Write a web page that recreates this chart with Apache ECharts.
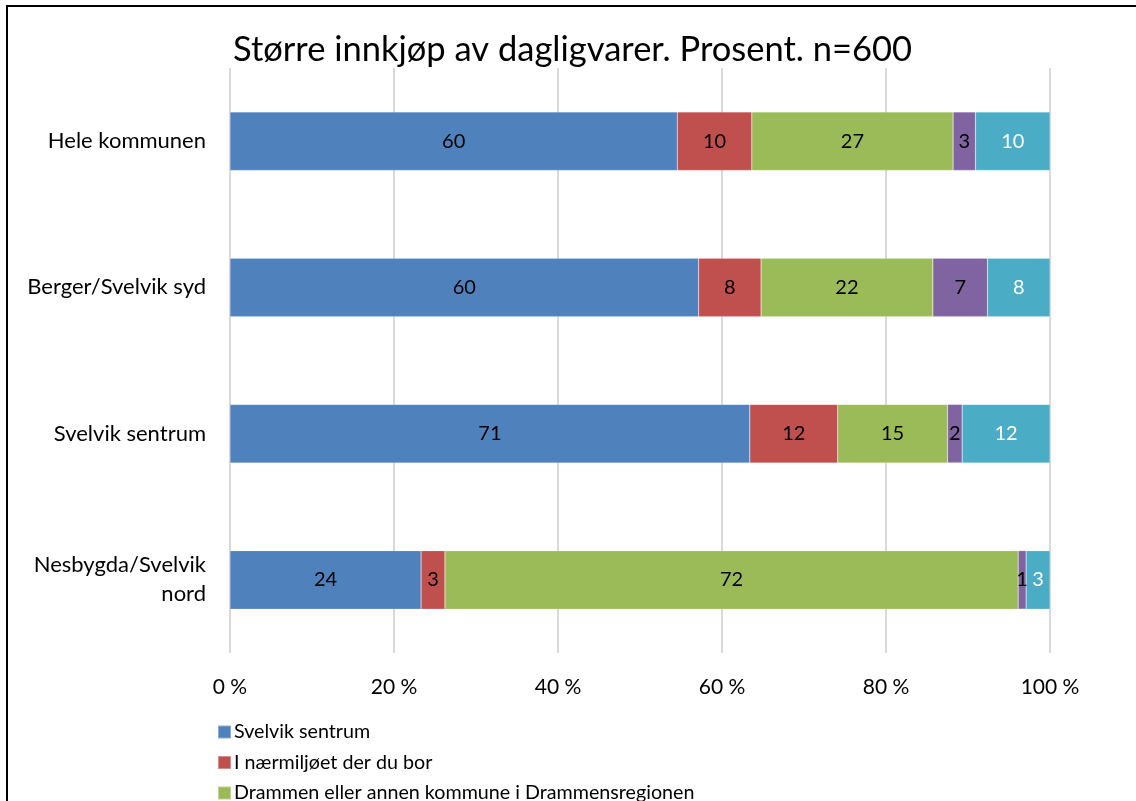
<!DOCTYPE html>
<html>
<head>
<meta charset="utf-8">
<script src="https://cdn.jsdelivr.net/npm/echarts@6/dist/echarts.min.js"></script>
<style>
html,body{margin:0;padding:0;background:#fff;}
#frame{position:absolute;left:6px;top:5px;width:1140px;height:820px;border:2px solid #000;box-sizing:border-box;}
#chart{position:absolute;left:0;top:0;width:1136px;height:801px;}
</style>
</head>
<body>
<div id="frame"></div>
<div id="chart"></div>
<script>
const categories = ['Hele kommunen', 'Berger/Svelvik syd', 'Svelvik sentrum', 'Nesbygda/Svelvik\nnord'];
const seriesNames = ['Svelvik sentrum', 'I nærmiljøet der du bor', 'Drammen eller annen kommune i Drammensregionen', 'Andre steder', 'Vet ikke'];
const svelvikSentrum = [60, 60, 71, 24];
const naermiljoet = [10, 8, 12, 3];
const drammen = [27, 22, 15, 72];
const andre = [3, 7, 2, 1];
const vetIkke = [10, 8, 12, 3];
const xTicks = [0, 20, 40, 60, 80, 100];

const colors = ['#4F81BD', '#C0504D', '#9BBB59', '#8064A2', '#4BACC6'];
const labelColors = ['#000', '#000', '#000', '#000', '#fff'];
const raw = [svelvikSentrum, naermiljoet, drammen, andre, vetIkke];
const totals = categories.map((c, i) => raw.reduce((s, arr) => s + arr[i], 0));
const FONT = 'Lato, "Open Sans", sans-serif';

const series = raw.map((arr, k) => ({
  name: seriesNames[k],
  type: 'bar',
  stack: 'total',
  barWidth: '40%',
  itemStyle: { color: colors[k], borderColor: 'rgba(255,255,255,0.35)', borderWidth: 0.5 },
  label: {
    show: true,
    position: 'inside',
    color: labelColors[k],
    fontFamily: FONT,
    fontSize: 20,
    formatter: p => String(arr[p.dataIndex])
  },
  data: arr.map((v, i) => ({ value: v / totals[i] * 100, raw: v }))
}));

const chart = echarts.init(document.getElementById('chart'), null, { renderer: 'canvas' });
chart.setOption({
  animation: false,
  color: colors,
  textStyle: { fontFamily: FONT },
  title: {
    text: 'Større innkjøp av dagligvarer. Prosent. n=600',
    left: 228,
    top: 27,
    textStyle: { fontFamily: FONT, fontSize: 34.5, fontWeight: 'normal', color: '#000' }
  },
  grid: { left: 230, right: 86, top: 68, bottom: 148, containLabel: false },
  xAxis: {
    type: 'value',
    min: 0, max: 100, interval: 20,
    axisLine: { show: false },
    axisTick: { show: false },
    splitLine: { show: true, lineStyle: { color: '#d9d9d9', width: 2 } },
    axisLabel: {
      margin: 24,
      fontFamily: FONT, fontSize: 21, color: '#000',
      formatter: v => xTicks.includes(v) ? v + ' %' : ''
    }
  },
  yAxis: {
    type: 'category',
    data: categories,
    inverse: true,
    axisLine: { show: false },
    axisTick: { show: false },
    axisLabel: { margin: 24, fontFamily: FONT, fontSize: 22, color: '#000', lineHeight: 29, align: 'right' }
  },
  legend: {
    orient: 'vertical',
    left: 212,
    top: 716,
    height: 300,
    itemWidth: 13,
    itemHeight: 13,
    itemGap: 8.5,
    icon: 'rect',
    textStyle: { fontFamily: FONT, fontSize: 19.7, color: '#000', lineHeight: 22, padding: [0, 0, 0, -2] },
    data: seriesNames
  },
  series: series
});
</script>
</body>
</html>
